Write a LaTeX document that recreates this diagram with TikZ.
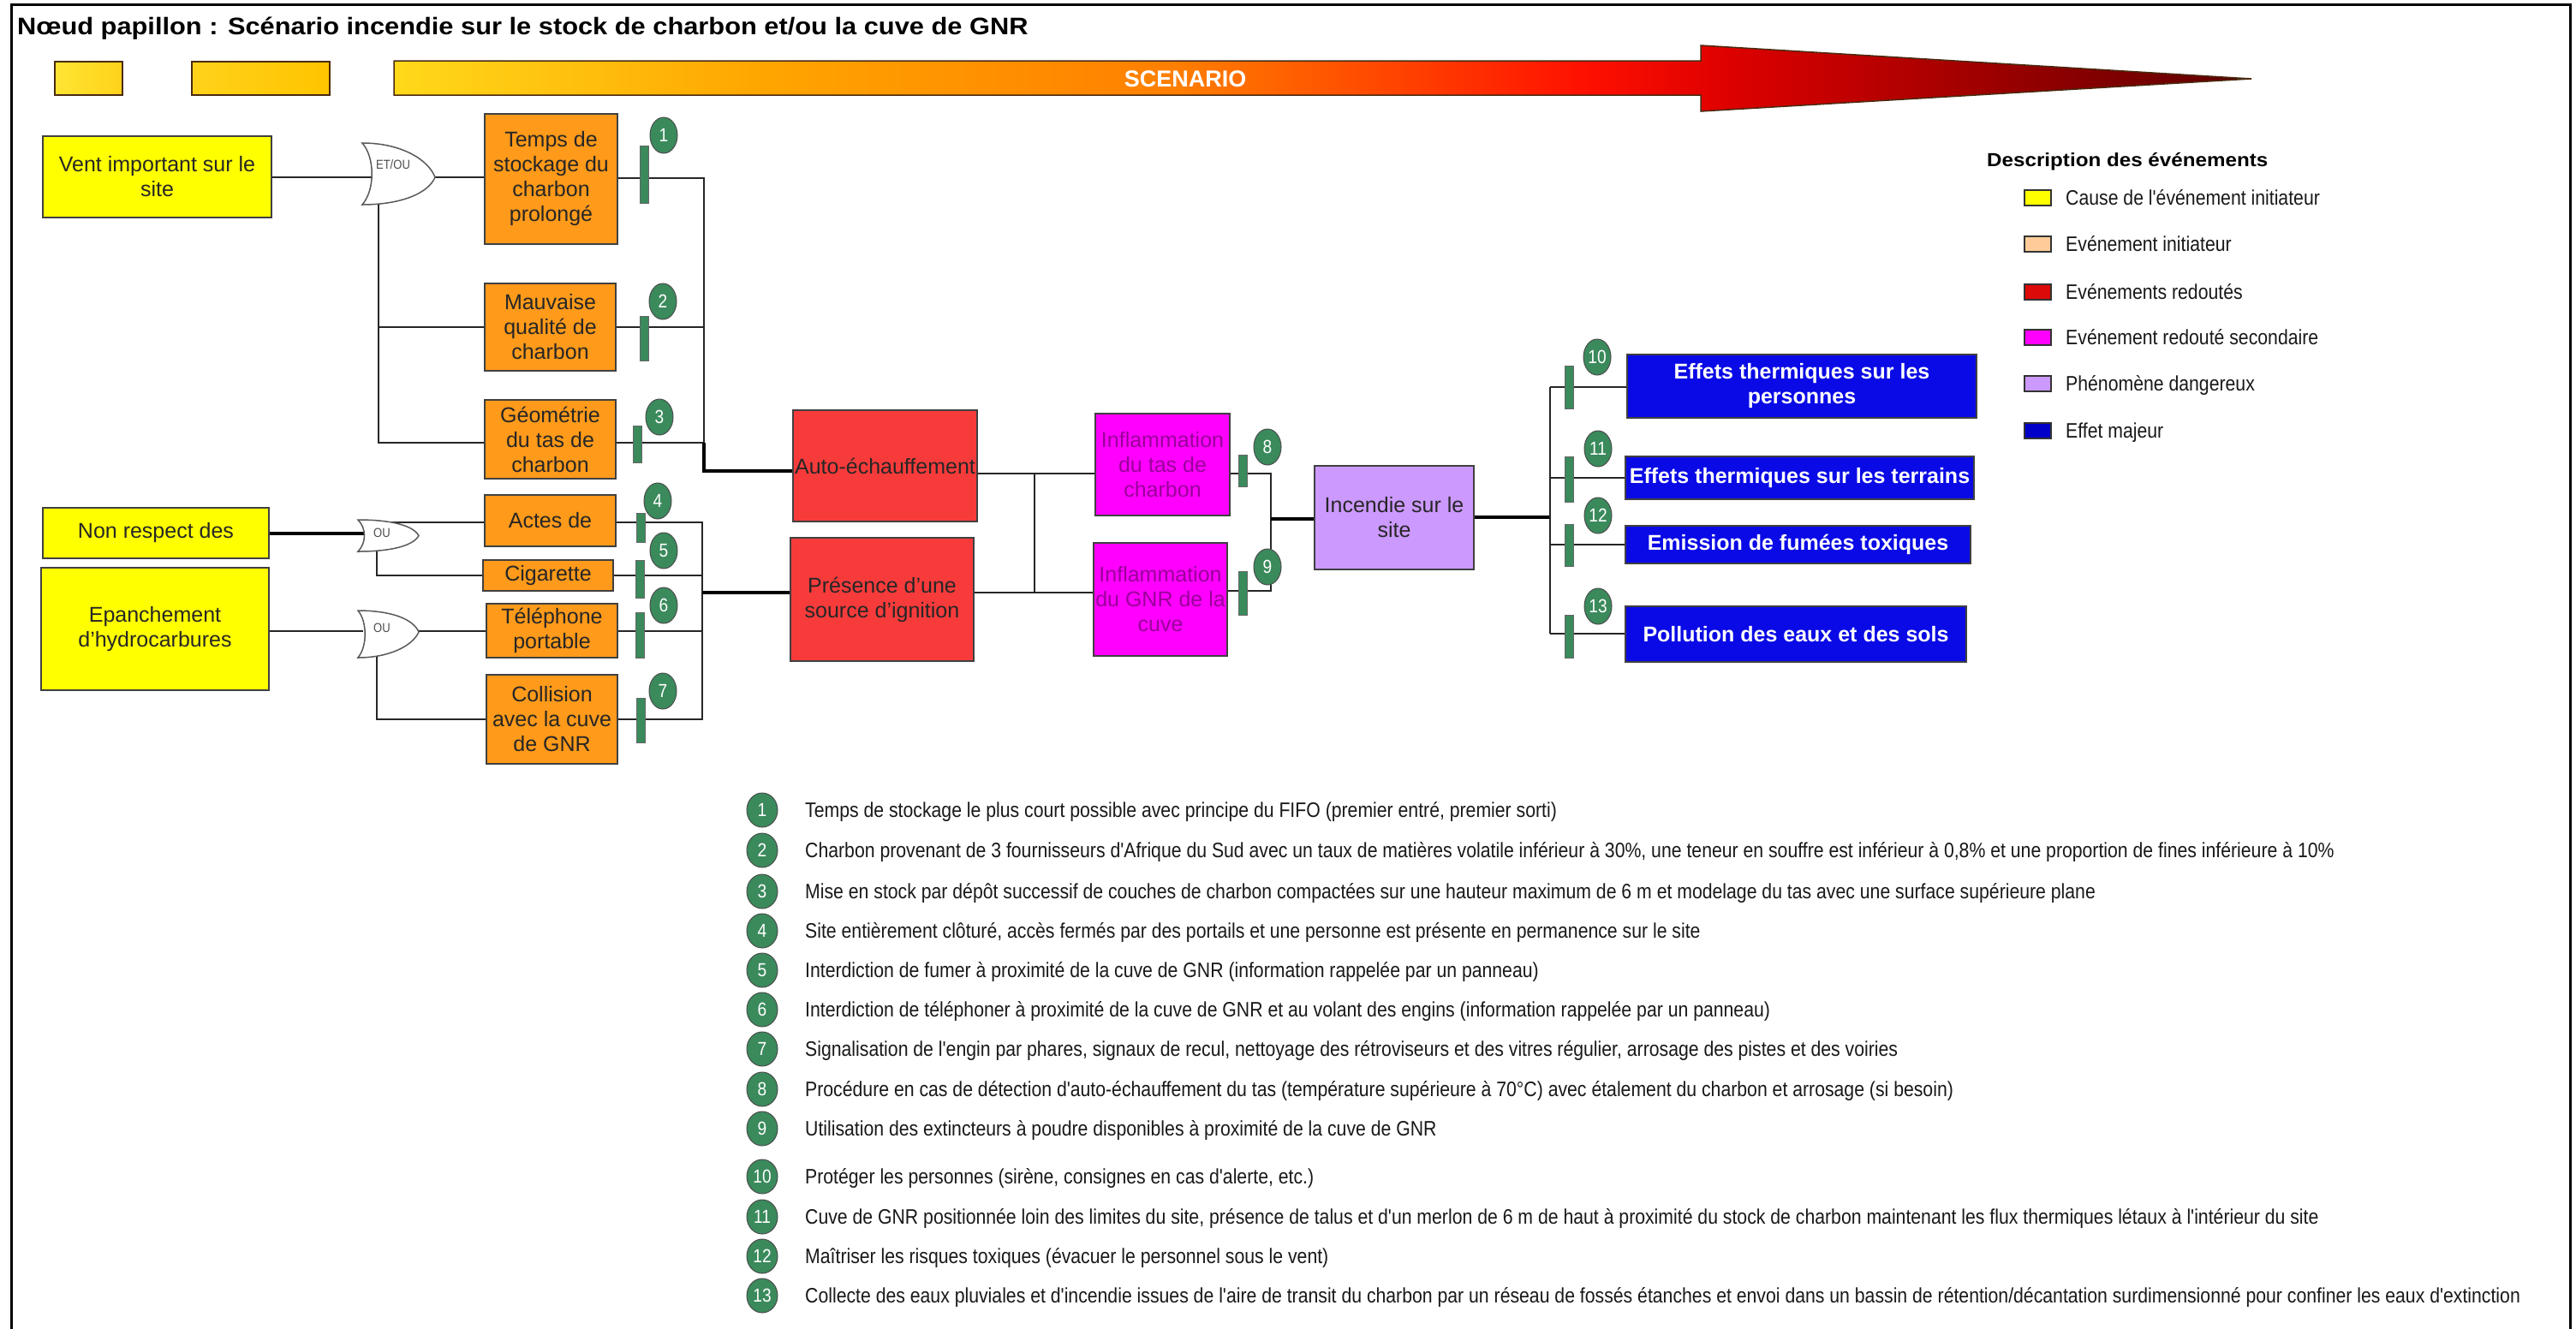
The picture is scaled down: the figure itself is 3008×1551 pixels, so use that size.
\documentclass[tikz,border=0pt]{standalone}
\usepackage{fontspec}
\setmainfont{Liberation Sans}
\newfontfamily\narrowf[FakeStretch=0.87]{Liberation Sans}
\newfontfamily\widef[FakeStretch=1.1]{Liberation Sans}
\usetikzlibrary{shapes.geometric}
\definecolor{cyellow}{HTML}{FFFF00}
\definecolor{corange}{HTML}{FF9A1A}
\definecolor{cred}{HTML}{F73B3B}
\definecolor{cmag}{HTML}{FF00FF}
\definecolor{cmagtext}{HTML}{9A009A}
\definecolor{clav}{HTML}{CC99FF}
\definecolor{cblue}{HTML}{0A0AE6}
\definecolor{cgreen}{HTML}{3A8A5C}
\definecolor{cpeach}{HTML}{FFCC99}
\definecolor{cdred}{HTML}{DD0A0A}
\definecolor{cdblue}{HTML}{0000C8}
\definecolor{sy1}{HTML}{FFE433}
\definecolor{sy2}{HTML}{FFD21A}
\definecolor{sy3}{HTML}{FFC400}
\definecolor{aline}{HTML}{4A2A10}
\definecolor{a0}{HTML}{FFD91A}
\definecolor{a1}{HTML}{FFA500}
\definecolor{a2}{HTML}{FF7F00}
\definecolor{a3}{HTML}{FF3300}
\definecolor{a4}{HTML}{FF1000}
\definecolor{a5}{HTML}{DD0000}
\definecolor{a6}{HTML}{5C0000}
\pgfdeclarehorizontalshading{scenshade}{100bp}{color(0bp)=(a0); color(25bp)=(a0); color(35bp)=(a1); color(46bp)=(a2); color(53.6bp)=(a3); color(57bp)=(a4); color(61bp)=(a5); color(75bp)=(a6); color(100bp)=(a6)}
\tikzset{
  box/.style={draw=black!75, line width=1.5, inner sep=0, align=center, text=black!85, font=\fontsize{25}{29}\selectfont},
  ybox/.style={box, fill=cyellow},
  obox/.style={box, fill=corange},
  rbox/.style={box, fill=cred},
  mbox/.style={box, fill=cmag, text=cmagtext},
  lbox/.style={box, fill=clav},
  bbox/.style={box, fill=cblue, text=white, font=\bfseries\fontsize{25}{29}\selectfont},
  barrier/.style={draw=black!60, fill=cgreen, line width=1, minimum width=10, minimum height=#1, inner sep=0},
  num/.style={ellipse, draw=black!70, line width=1, fill=cgreen, text=white, minimum width=32, minimum height=42, inner sep=0, font=\narrowf\fontsize{22}{22}\selectfont},
  lnum/.style={num, minimum width=36, minimum height=40},
  wire/.style={draw=black!85, line width=2},
  bigwire/.style={draw=black, line width=4},
  gate/.style={draw=black!65, fill=white, line width=1.5},
  gatelabel/.style={text=black!70, inner sep=0, font=\narrowf\fontsize{15}{15}\selectfont},
  swatch/.style={draw=black!80, line width=1.5, minimum width=31, minimum height=18, inner sep=0},
  legtext/.style={anchor=base west, inner sep=0, text=black!90, font=\narrowf\fontsize{24.4}{26}\selectfont},
  ltext/.style={anchor=base west, inner sep=0, text=black!90, font=\narrowf\fontsize{24.4}{26}\selectfont},
}
\begin{document}
\begin{tikzpicture}[x=1pt,y=-1pt]
\useasboundingbox (0,0) rectangle (3008,1551);
\fill[white] (0,0) rectangle (3008,1551);
% frame
\draw[line width=3] (13,1560) -- (13,5) -- (3001,5) -- (3001,1560);
% title
\node[anchor=base west, inner sep=0, font=\widef\bfseries\fontsize{28}{30}\selectfont] (title) at (20,40) {Nœud papillon : Scénario incendie sur le stock de charbon et/ou la cuve de GNR};
% scenario bar
\shade[left color=sy1, right color=sy2, draw=aline, line width=1.5] (64,72) rectangle (143,111);
\shade[left color=sy2, right color=sy3, draw=aline, line width=1.5] (224,72) rectangle (385,111);
\shade[shading=scenshade, draw=aline, line width=1.5] (460,71) -- (1986,71) -- (1986,53) -- (2629,92) -- (1986,130) -- (1986,111) -- (460,111) -- cycle;
\node[text=white, font=\bfseries\fontsize{27}{27}\selectfont, inner sep=0] (scen) at (1384,92) {SCENARIO};

% boxes
\node[ybox, minimum width=267, minimum height=95] (vent) at (183.5,206.5) {Vent important sur le\\site};
\node[ybox, minimum width=264, minimum height=59] (nonresp) at (182,622.5) {Non respect des};
\node[ybox, minimum width=266, minimum height=143] (epanch) at (181,734.5) {Epanchement\\d'hydrocarbures};

\node[obox, minimum width=155, minimum height=152] (temps) at (643.5,209) {Temps de\\stockage du\\charbon\\prolongé};
\node[obox, minimum width=153, minimum height=102] (mauv) at (642.5,382) {Mauvaise\\qualité de\\charbon};
\node[obox, minimum width=153, minimum height=92] (geom) at (642.5,513) {Géométrie\\du tas de\\charbon};
\node[obox, minimum width=153, minimum height=60] (actes) at (642.5,608) {Actes de};
\node[obox, minimum width=152, minimum height=36] (cig) at (640,672) {Cigarette};
\node[obox, minimum width=153, minimum height=63] (tel) at (644.5,736.5) {Téléphone\\portable};
\node[obox, minimum width=153, minimum height=104] (coll) at (644.5,840) {Collision\\avec la cuve\\de GNR};

\node[rbox, minimum width=215, minimum height=130] (auto) at (1033.5,544) {Auto-échauffement};
\node[rbox, minimum width=214, minimum height=144] (pres) at (1030,700) {Présence d'une\\source d'ignition};
\node[mbox, minimum width=157, minimum height=119] (inft) at (1357.5,542.5) {Inflammation\\du tas de\\charbon};
\node[mbox, minimum width=156, minimum height=132] (infg) at (1355,700) {Inflammation\\du GNR de la\\cuve};
\node[lbox, minimum width=186, minimum height=121] (inc) at (1628,604.5) {Incendie sur le\\site};
\node[bbox, minimum width=408, minimum height=74] (e10) at (2104,451) {Effets thermiques sur les\\personnes};
\node[bbox, minimum width=407, minimum height=50] (e11) at (2101.5,558) {Effets thermiques sur les terrains};
\node[bbox, minimum width=403, minimum height=44] (e12) at (2099.5,636) {Emission de fumées toxiques};
\node[bbox, minimum width=398, minimum height=65] (e13) at (2097,740.5) {Pollution des eaux et des sols};

% junction coordinates
\coordinate (g1in) at (434,207);
\coordinate (g1out) at (508,207);
\coordinate (g1bot) at (442,232);
\coordinate (b1) at (442,517);
\coordinate (r1top) at (822,208);
\coordinate (r1bot) at (822,550);
\coordinate (g2in) at (426,622.5);
\coordinate (g2top) at (446,610);
\coordinate (g2bot) at (440,640);
\coordinate (b2) at (440,672);
\coordinate (g3in) at (424,737);
\coordinate (g3out) at (489,737);
\coordinate (g3bot) at (440,764);
\coordinate (b3) at (440,840);
\coordinate (r2top) at (820,610);
\coordinate (r2bot) at (820,840);
\coordinate (r2mid) at (820,692);
\coordinate (m1) at (1208,553);
\coordinate (m2) at (1208,692);
\coordinate (n1) at (1484,553);
\coordinate (n2) at (1484,690);
\coordinate (n3) at (1484,606);
\coordinate (e1) at (1810,452);
\coordinate (e2) at (1810,740);
\coordinate (e3) at (1810,604);

% wires left top
\draw[wire] (vent.east |- g1in) -- (g1in);
\draw[wire] (g1out) -- (temps.west |- g1out);
\draw[wire] (g1bot) -- (b1) -- (geom.west |- b1);
\draw[wire] (g1bot |- mauv.west) -- (mauv.west);
\draw[wire] (temps.east |- r1top) -- (r1top) -- (r1top |- b1);
\draw[wire] (mauv.east) -- (r1top |- mauv.east);
\draw[wire] (geom.east |- b1) -- (r1top |- b1);
\draw[bigwire] (r1top |- b1) -- (r1bot) -- (auto.west |- r1bot);
% wires left bottom
\draw[bigwire] (nonresp.east) -- (g2in);
\draw[wire] (g2top) -- (actes.west |- g2top);
\draw[wire] (g2bot) -- (b2) -- (cig.west |- b2);
\draw[wire] (epanch.east |- g3in) -- (g3in);
\draw[wire] (g3out) -- (tel.west |- g3out);
\draw[wire] (g3bot) -- (b3) -- (coll.west |- b3);
\draw[wire] (actes.east |- r2top) -- (r2top) -- (r2bot) -- (coll.east |- r2bot);
\draw[wire] (cig.east) -- (r2top |- cig.east);
\draw[wire] (tel.east |- g3out) -- (r2top |- g3out);
\draw[bigwire] (r2mid) -- (pres.west |- r2mid);
% wires middle
\draw[wire] (auto.east |- m1) -- (inft.west |- m1);
\draw[wire] (m1) -- (m2);
\draw[wire] (pres.east |- m2) -- (infg.west |- m2);
\draw[wire] (inft.east |- n1) -- (n1) -- (n2) -- (infg.east |- n2);
\draw[bigwire] (n3) -- (inc.west |- n3);
\draw[bigwire] (inc.east |- e3) -- (e3);
\draw[wire] (e1) -- (e2);
\draw[wire] (e1) -- (e10.west |- e1);
\draw[wire] (e1 |- e11.west) -- (e11.west);
\draw[wire] (e1 |- e12.west) -- (e12.west);
\draw[wire] (e2) -- (e13.west |- e2);

% gates
\draw[gate] (423,167) .. controls (468,167) and (500,186) .. (508,207) .. controls (500,226) and (468,239) .. (423,239) .. controls (438,222) and (438,184) .. (423,167) -- cycle;
\node[gatelabel] (g1lab) at (459,192) {ET/OU};
\draw[gate] (418,607) .. controls (455,607) and (482,613) .. (489,625.5) .. controls (482,638) and (455,644) .. (418,644) .. controls (428,634) and (428,617) .. (418,607) -- cycle;
\node[gatelabel] (g2lab) at (446,622) {OU};
\draw[gate] (418,713) .. controls (455,713) and (482,722) .. (489,738) .. controls (482,754) and (455,768) .. (418,768) .. controls (429,755) and (429,726) .. (418,713) -- cycle;
\node[gatelabel] (g3lab) at (446,733) {OU};

% barriers
\node[barrier=67] (bar1) at (752.5,203.5) {};
\node[barrier=52] (bar2) at (752.5,395) {};
\node[barrier=43] (bar3) at (744.5,518.5) {};
\node[barrier=34] (bar4) at (748,616) {};
\node[barrier=44] (bar5) at (747,676) {};
\node[barrier=53] (bar6) at (747,741.5) {};
\node[barrier=52] (bar7) at (748,841) {};
\node[barrier=37] (bar8) at (1451.5,549.5) {};
\node[barrier=51] (bar9) at (1451.5,692.5) {};
\node[barrier=50] (bar10) at (1832,452) {};
\node[barrier=53] (bar11) at (1832,559.5) {};
\node[barrier=49] (bar12) at (1832,636.5) {};
\node[barrier=50] (bar13) at (1832,743) {};
% barrier numbers
\node[num] (c1) at (775,158) {1};
\node[num] (c2) at (774,352) {2};
\node[num] (c3) at (770,487) {3};
\node[num] (c4) at (768,585) {4};
\node[num] (c5) at (775,643) {5};
\node[num] (c6) at (775,707) {6};
\node[num] (c7) at (774,807) {7};
\node[num] (c8) at (1480,522) {8};
\node[num] (c9) at (1480,662) {9};
\node[num] (c10) at (1865,417) {10};
\node[num] (c11) at (1866,524) {11};
\node[num] (c12) at (1866,602) {12};
\node[num] (c13) at (1866,708) {13};

% legend
\node[anchor=base west, inner sep=0, font=\widef\bfseries\fontsize{22}{24}\selectfont] (legtitle) at (2320,194) {Description des événements};
\node[swatch, fill=cyellow] (s1) at (2379.5,231) {};
\node[swatch, fill=cpeach] (s2) at (2379.5,285) {};
\node[swatch, fill=cdred] (s3) at (2379.5,341) {};
\node[swatch, fill=cmag] (s4) at (2379.5,394) {};
\node[swatch, fill=clav] (s5) at (2379.5,448) {};
\node[swatch, fill=cdblue] (s6) at (2379.5,503) {};
\node[legtext] (lt1) at (2412,239) {Cause de l'événement initiateur};
\node[legtext] (lt2) at (2412,293) {Evénement initiateur};
\node[legtext] (lt3) at (2412,349) {Evénements redoutés};
\node[legtext] (lt4) at (2412,402) {Evénement redouté secondaire};
\node[legtext] (lt5) at (2412,456) {Phénomène dangereux};
\node[legtext] (lt6) at (2412,511) {Effet majeur};

% list of barriers
\node[lnum] (l1) at (890,946) {1};
\node[lnum] (l2) at (890,993) {2};
\node[lnum] (l3) at (890,1041) {3};
\node[lnum] (l4) at (890,1087) {4};
\node[lnum] (l5) at (890,1133) {5};
\node[lnum] (l6) at (890,1179) {6};
\node[lnum] (l7) at (890,1225) {7};
\node[lnum] (l8) at (890,1272) {8};
\node[lnum] (l9) at (890,1318) {9};
\node[lnum] (l10) at (890,1374) {10};
\node[lnum] (l11) at (890,1421) {11};
\node[lnum] (l12) at (890,1467) {12};
\node[lnum] (l13) at (890,1513) {13};
\node[ltext] (t1) at (940,954) {Temps de stockage le plus court possible avec principe du FIFO (premier entré, premier sorti)};
\node[ltext] (t2) at (940,1001) {Charbon provenant de 3 fournisseurs d'Afrique du Sud avec un taux de matières volatile inférieur à 30\%, une teneur en souffre est inférieur à 0,8\% et une proportion de fines inférieure à 10\%};
\node[ltext] (t3) at (940,1049) {Mise en stock par dépôt successif de couches de charbon compactées sur une hauteur maximum de 6 m et modelage du tas avec une surface supérieure plane};
\node[ltext] (t4) at (940,1095) {Site entièrement clôturé, accès fermés par des portails et une personne est présente en permanence sur le site};
\node[ltext] (t5) at (940,1141) {Interdiction de fumer à proximité de la cuve de GNR (information rappelée par un panneau)};
\node[ltext] (t6) at (940,1187) {Interdiction de téléphoner à proximité de la cuve de GNR et au volant des engins (information rappelée par un panneau)};
\node[ltext] (t7) at (940,1233) {Signalisation de l'engin par phares, signaux de recul, nettoyage des rétroviseurs et des vitres régulier, arrosage des pistes et des voiries};
\node[ltext] (t8) at (940,1280) {Procédure en cas de détection d'auto-échauffement du tas (température supérieure à 70°C) avec étalement du charbon et arrosage (si besoin)};
\node[ltext] (t9) at (940,1326) {Utilisation des extincteurs à poudre disponibles à proximité de la cuve de GNR};
\node[ltext] (t10) at (940,1382) {Protéger les personnes (sirène, consignes en cas d'alerte, etc.)};
\node[ltext] (t11) at (940,1429) {Cuve de GNR positionnée loin des limites du site, présence de talus et d'un merlon de 6 m de haut à proximité du stock de charbon maintenant les flux thermiques létaux à l'intérieur du site};
\node[ltext] (t12) at (940,1475) {Maîtriser les risques toxiques (évacuer le personnel sous le vent)};
\node[ltext] (t13) at (940,1521) {Collecte des eaux pluviales et d'incendie issues de l'aire de transit du charbon par un réseau de fossés étanches et envoi dans un bassin de rétention/décantation surdimensionné pour confiner les eaux d'extinction};
\end{tikzpicture}
\end{document}
